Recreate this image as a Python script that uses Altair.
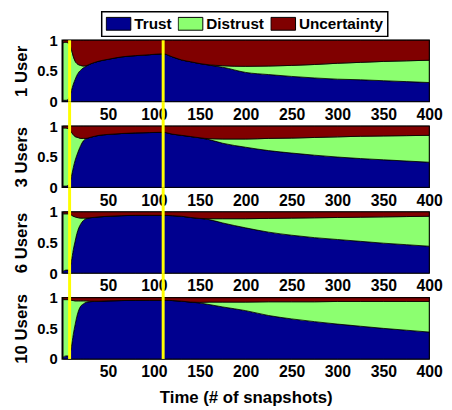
import altair as alt
import pandas as pd

# ---------------- data ----------------
time_pts = [1, 4, 6, 8, 10, 12, 14, 16, 18, 20, 23, 26, 30, 40, 50, 65, 80, 95, 110,
            120, 130, 140, 150, 160, 175, 200, 225, 250, 275, 300, 325, 350, 375, 400]

panel_titles = ["1 User", "3 Users", "6 Users", "10 Users"]
series_names = ["Trust", "Distrust", "Uncertainty"]
series_colors = ["#00008F", "#8CFF70", "#800000"]
marker_times = [8, 110]
x_tick_values = [50, 100, 150, 200, 250, 300, 350, 400]
y_tick_values = [0, 0.5, 1]

trust_1 = [.02, .02, .03, .08, .18, .28, .36, .43, .48, .51, .55, .575, .61, .66, .69, .73, .75, .765, .78,
           .73, .68, .65, .62, .595, .56, .475, .44, .41, .385, .365, .355, .34, .325, .31]
distrust_1 = [.94, .95, .93, .85, .67, .46, .30, .19, .12, .08, .03, .01, 0, 0, 0, 0, 0, 0, 0,
              0, 0, 0, 0, .005, .025, .10, .14, .18, .22, .26, .285, .315, .34, .365]
uncert_1 = [.04, .03, .04, .07, .15, .26, .34, .38, .40, .41, .42, .415, .39, .34, .31, .27, .25, .235, .22,
            .27, .32, .35, .38, .40, .415, .425, .42, .41, .395, .375, .36, .345, .335, .325]

trust_3 = [.02, .02, .03, .06, .18, .32, .44, .53, .61, .68, .76, .795, .815, .85, .865, .88, .89, .895, .90,
           .87, .85, .83, .81, .78, .72, .655, .60, .56, .525, .495, .47, .45, .43, .41]
distrust_3 = [.95, .95, .93, .89, .72, .54, .39, .29, .20, .12, .04, .005, 0, 0, 0, 0, 0, 0, 0,
              0, 0, 0, 0, .015, .07, .135, .20, .245, .29, .33, .365, .39, .415, .44]
uncert_3 = [.03, .03, .04, .05, .10, .14, .17, .18, .19, .20, .20, .20, .185, .15, .135, .12, .11, .105, .10,
            .13, .15, .17, .19, .205, .21, .21, .20, .195, .185, .175, .165, .16, .155, .15]

trust_6 = [.03, .05, .05, .08, .20, .38, .52, .65, .74, .80, .86, .89, .905, .92, .93, .94, .945, .945, .945,
           .94, .93, .91, .895, .875, .82, .74, .67, .62, .58, .55, .52, .49, .465, .44]
distrust_6 = [.94, .92, .92, .88, .75, .55, .40, .26, .165, .10, .04, .01, 0, 0, 0, 0, 0, 0, 0,
              0, 0, 0, 0, .015, .07, .15, .225, .28, .325, .36, .395, .43, .46, .49]
uncert_6 = [.03, .03, .03, .04, .05, .07, .08, .09, .095, .10, .10, .10, .095, .08, .07, .06, .055, .055, .055,
            .06, .07, .09, .105, .11, .11, .11, .105, .10, .095, .09, .085, .08, .075, .07]

trust_10 = [.03, .05, .05, .08, .20, .40, .56, .70, .80, .86, .90, .925, .935, .945, .95, .955, .958, .96, .96,
            .955, .945, .93, .915, .89, .85, .79, .71, .655, .61, .57, .535, .50, .47, .44]
distrust_10 = [.94, .92, .92, .885, .76, .555, .39, .25, .15, .09, .05, .025, .01, 0, 0, 0, 0, 0, 0,
               0, 0, 0, .01, .04, .08, .14, .225, .28, .325, .37, .405, .44, .47, .50]
uncert_10 = [.03, .03, .03, .035, .04, .045, .05, .05, .05, .05, .05, .05, .055, .055, .05, .045, .042, .04, .04,
             .045, .055, .07, .075, .07, .07, .07, .065, .065, .065, .06, .06, .06, .06, .06]

panel_series = [
    (trust_1, distrust_1, uncert_1),
    (trust_3, distrust_3, uncert_3),
    (trust_6, distrust_6, uncert_6),
    (trust_10, distrust_10, uncert_10),
]

# ---------------- layout ----------------
W, H, GAP = 372, 62, 25
FONT = "Liberation Sans"


def long_table(t, d, u):
    rows = []
    for k, vals in enumerate((t, d, u)):
        for x, v in zip(time_pts, vals):
            rows.append({"time": x, "value": v, "series": series_names[k], "order": k})
    return pd.DataFrame(rows)


def make_panel(idx):
    t, d, u = panel_series[idx]
    df = long_table(t, d, u)
    last = idx == len(panel_titles) - 1
    x_enc = alt.X(
        "time:Q",
        scale=alt.Scale(domain=[0, 400], nice=False, zero=False),
        axis=alt.Axis(values=x_tick_values, labelPadding=5, labelFontSize=16, titlePadding=10),
        title="Time (# of snapshots)" if last else None,
    )
    area = alt.Chart(df).mark_area(
        stroke="black", strokeWidth=0.8, interpolate="monotone"
    ).encode(
        x=x_enc,
        y=alt.Y(
            "value:Q",
            stack="zero",
            scale=alt.Scale(domain=[0, 1], nice=False),
            axis=alt.Axis(values=y_tick_values, format="~g", labelFontSize=15),
            title=panel_titles[idx],
        ),
        color=alt.Color(
            "series:N",
            scale=alt.Scale(domain=series_names, range=series_colors),
            legend=alt.Legend(
                orient="none", legendX=40, legendY=-29, direction="horizontal",
                title=None,
            ),
        ),
        order=alt.Order("order:Q"),
    )
    rules = alt.Chart(pd.DataFrame({"time": marker_times})).mark_rule(
        color="#FFFF00", strokeWidth=3
    ).encode(
        x="time:Q",
        y=alt.value(0 if idx == 0 else -GAP),
        y2=alt.value(H),
    )
    return alt.layer(area, rules).properties(width=W, height=H)


chart = alt.vconcat(
    *[make_panel(i) for i in range(len(panel_titles))],
    spacing=GAP, bounds="flush",
).properties(
    padding={"left": 4, "top": 0, "right": 0, "bottom": 2}
).configure(
    font=FONT
).configure_view(
    stroke="black", strokeWidth=1.5
).configure_axis(
    labelFont=FONT, labelFontWeight="bold", labelColor="black", labelFlush=False,
    titleFont=FONT, titleFontSize=17, titleFontWeight="bold", titleColor="black",
    ticks=False, domain=False, grid=False, titlePadding=6,
).configure_axisY(
    labelPadding=5
).configure_legend(
    symbolType="M-1,-0.52L1,-0.52L1,0.52L-1,0.52Z", symbolSize=625,
    symbolStrokeColor="black", symbolStrokeWidth=1, symbolOpacity=1,
    clipHeight=16,
    labelFont=FONT, labelFontSize=15.5, labelFontWeight="bold", labelColor="black",
    labelOffset=3, columnPadding=6, padding=4,
    strokeColor="black", strokeWidth=1.5, fillColor="white",
)

chart.save("out.html", embed_options={"renderer": "svg", "actions": False})
